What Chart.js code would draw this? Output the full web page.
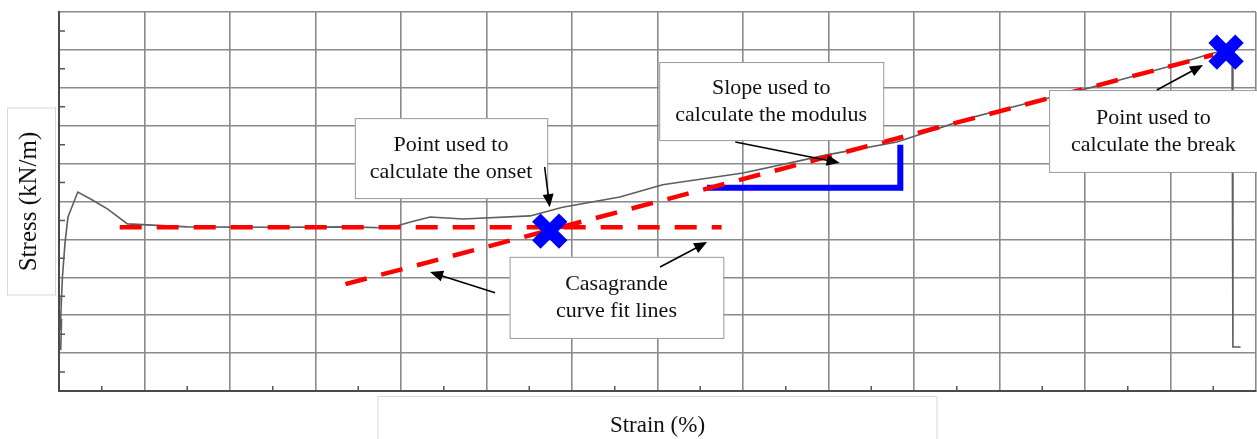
<!DOCTYPE html>
<html>
<head>
<meta charset="utf-8">
<script src="https://cdn.jsdelivr.net/npm/chart.js@4.4.1/dist/chart.umd.min.js"></script>
<style>
  html, body { margin: 0; padding: 0; background: #fff; }
  canvas { display: block; }
</style>
</head>
<body>
<canvas id="stressChart" width="1257" height="439"></canvas>
<script>
const strain = [0.02, 0.03, 0.015, 0.03, 0.025, 0.04, 0.07, 0.105, 0.22, 0.39, 0.57, 0.80, 1.5, 2.5, 3.4, 3.87, 4.1, 4.34, 4.73, 5.51, 5.89, 6.56, 7.06, 8.0, 8.98, 9.80, 10.65, 11.0, 12.18, 12.96, 13.5, 13.72, 13.73, 13.82];
const stress = [1.08, 1.9, 1.6, 2.5, 2.2, 3.0, 3.9, 4.59, 5.25, 5.04, 4.80, 4.41, 4.33, 4.32, 4.33, 4.30, 4.45, 4.59, 4.54, 4.62, 4.85, 5.12, 5.44, 5.75, 6.23, 6.57, 7.20, 7.41, 8.07, 8.55, 8.92, 9.0, 1.16, 1.16];

// Casagrande fit lines
const flatFitX = [0.71, 7.75];
const flatFitY = [4.32, 4.32];
const slopeFitX = [3.35, 13.5];
const slopeFitY = [2.82, 8.87];

// slope triangle used for modulus
const slopeTriX = [7.58, 9.84, 9.84];
const slopeTriY = [5.36, 5.36, 6.50];

// onset and break points
const markX = [5.74, 13.65];
const markY = [4.22, 8.94];

const xMin = 0, xMax = 14, yMin = 0, yMax = 10;

const pts = (xs, ys) => xs.map((x, i) => ({ x: x, y: ys[i] }));

// callouts, in axis units: box [x1, y1, x2, y2], arrows [[fromX, fromY, toX, toY]]
const callouts = [
  { lines: ['Point used to', 'calculate the onset'], box: [3.46, 7.20, 5.71, 5.09], arrows: [[5.68, 5.91, 5.74, 4.85]] },
  { lines: ['Slope used to', 'calculate the modulus'], box: [7.02, 8.68, 9.64, 6.62], arrows: [[7.91, 6.57, 9.13, 6.02]] },
  { lines: ['Point used to', 'calculate the break'], box: [11.58, 7.94, 14.02, 5.78], arrows: [[12.84, 7.94, 13.38, 8.60]] },
  { lines: ['Casagrande', 'curve fit lines'], box: [5.27, 3.54, 7.77, 1.40], arrows: [[5.10, 2.59, 4.34, 3.14], [7.03, 3.27, 7.58, 3.93]] }
];

const serif = '"Liberation Serif", "DejaVu Serif", serif';

function arrow(ctx, x1, y1, x2, y2) {
  const a = Math.atan2(y2 - y1, x2 - x1);
  const len = 13, half = 5.5;
  ctx.beginPath();
  ctx.moveTo(x1, y1);
  ctx.lineTo(x2 - Math.cos(a) * len * 0.8, y2 - Math.sin(a) * len * 0.8);
  ctx.stroke();
  ctx.beginPath();
  ctx.moveTo(x2, y2);
  ctx.lineTo(x2 - Math.cos(a) * len - Math.sin(a) * half, y2 - Math.sin(a) * len + Math.cos(a) * half);
  ctx.lineTo(x2 - Math.cos(a) * len + Math.sin(a) * half, y2 - Math.sin(a) * len - Math.cos(a) * half);
  ctx.closePath();
  ctx.fill();
}

const extras = {
  id: 'extras',
  beforeDatasetsDraw(chart) {
    // small half-step ticks inside the axes
    const ctx = chart.ctx, xs = chart.scales.x, ys = chart.scales.y, a = chart.chartArea;
    ctx.save();
    ctx.strokeStyle = '#555';
    ctx.lineWidth = 1.5;
    ctx.beginPath();
    for (let v = yMin + 0.5; v < yMax; v += 1) {
      const y = ys.getPixelForValue(v);
      ctx.moveTo(a.left, y); ctx.lineTo(a.left + 6, y);
    }
    for (let v = xMin + 0.5; v < xMax; v += 1) {
      const x = xs.getPixelForValue(v);
      ctx.moveTo(x, a.bottom); ctx.lineTo(x, a.bottom - 5);
    }
    ctx.stroke();
    ctx.restore();
  },
  afterDatasetsDraw(chart) {
    const ctx = chart.ctx, xs = chart.scales.x, ys = chart.scales.y;
    ctx.save();
    callouts.forEach(c => {
      const x1 = xs.getPixelForValue(c.box[0]), y1 = ys.getPixelForValue(c.box[1]);
      const x2 = xs.getPixelForValue(c.box[2]), y2 = ys.getPixelForValue(c.box[3]);
      ctx.fillStyle = '#fff';
      ctx.fillRect(x1, y1, x2 - x1, y2 - y1);
      ctx.strokeStyle = '#9a9a9a';
      ctx.lineWidth = 1;
      ctx.strokeRect(x1 + 0.5, y1 + 0.5, x2 - x1, y2 - y1);
      ctx.fillStyle = '#111';
      ctx.font = '22px ' + serif;
      ctx.textAlign = 'center';
      ctx.textBaseline = 'middle';
      const cx = (x1 + x2) / 2, cy = (y1 + y2) / 2;
      ctx.fillText(c.lines[0], cx, cy - 13);
      ctx.fillText(c.lines[1], cx, cy + 14);
      ctx.strokeStyle = '#000';
      ctx.fillStyle = '#000';
      ctx.lineWidth = 1.6;
      c.arrows.forEach(r => arrow(ctx,
        xs.getPixelForValue(r[0]), ys.getPixelForValue(r[1]),
        xs.getPixelForValue(r[2]), ys.getPixelForValue(r[3])));
    });
    ctx.restore();
  },
  afterDraw(chart) {
    // axis titles sit in their own faint boxes
    const ctx = chart.ctx, a = chart.chartArea;
    ctx.save();
    ctx.strokeStyle = '#d8d8d8';
    ctx.lineWidth = 1;
    const midY = (a.top + a.bottom) / 2;
    ctx.fillStyle = '#fff';
    ctx.fillRect(7, midY - 94, a.left - 11, 188);
    ctx.strokeRect(7.5, midY - 93.5, a.left - 11, 187);
    const midX = (a.left + a.right) / 2;
    ctx.fillRect(midX - 280, a.bottom + 5, 560, 60);
    ctx.strokeRect(midX - 279.5, a.bottom + 5.5, 559, 60);
    ctx.fillStyle = '#111';
    ctx.textAlign = 'center';
    ctx.textBaseline = 'middle';
    ctx.font = '23px ' + serif;
    ctx.fillText('Strain (%)', midX, a.bottom + 35);
    ctx.translate(29, midY);
    ctx.rotate(-Math.PI / 2);
    ctx.font = '25px ' + serif;
    ctx.fillText('Stress (kN/m)', 0, 0);
    ctx.restore();
  }
};

new Chart(document.getElementById('stressChart').getContext('2d'), {
  type: 'scatter',
  data: {
    datasets: [
      {
        label: 'Onset / break',
        data: pts(markX, markY),
        showLine: false,
        pointStyle: 'crossRot',
        pointRadius: 19,
        pointBorderWidth: 12,
        pointBorderColor: '#0000ff',
        pointBackgroundColor: '#0000ff'
      },
      {
        label: 'Flat fit',
        data: pts(flatFitX, flatFitY),
        showLine: true,
        borderColor: '#ff0000',
        borderWidth: 4.5,
        borderDash: [22, 15],
        pointRadius: 0
      },
      {
        label: 'Slope fit',
        data: pts(slopeFitX, slopeFitY),
        showLine: true,
        borderColor: '#ff0000',
        borderWidth: 4.5,
        borderDash: [22, 15],
        pointRadius: 0
      },
      {
        label: 'Modulus slope',
        data: pts(slopeTriX, slopeTriY),
        showLine: true,
        borderColor: '#0000ff',
        borderWidth: 6,
        borderJoinStyle: 'miter',
        pointRadius: 0
      },
      {
        label: 'Stress',
        data: pts(strain, stress),
        showLine: true,
        borderColor: '#5e5e5e',
        borderWidth: 1.6,
        pointRadius: 0
      }
    ]
  },
  options: {
    responsive: false,
    animation: false,
    layout: { autoPadding: false, padding: { left: 59, top: 12, right: 1, bottom: 48 } },
    plugins: { legend: { display: false }, tooltip: { enabled: false } },
    scales: {
      x: {
        type: 'linear', min: xMin, max: xMax,
        ticks: { display: false, stepSize: 1 },
        grid: { color: '#8a8a8a', lineWidth: 1.6, drawTicks: false },
        border: { color: '#4a4a4a', width: 2 }
      },
      y: {
        type: 'linear', min: yMin, max: yMax,
        ticks: { display: false, stepSize: 1 },
        grid: { color: '#8a8a8a', lineWidth: 1.6, drawTicks: false },
        border: { color: '#4a4a4a', width: 2 }
      }
    }
  },
  plugins: [extras]
});
</script>
</body>
</html>
